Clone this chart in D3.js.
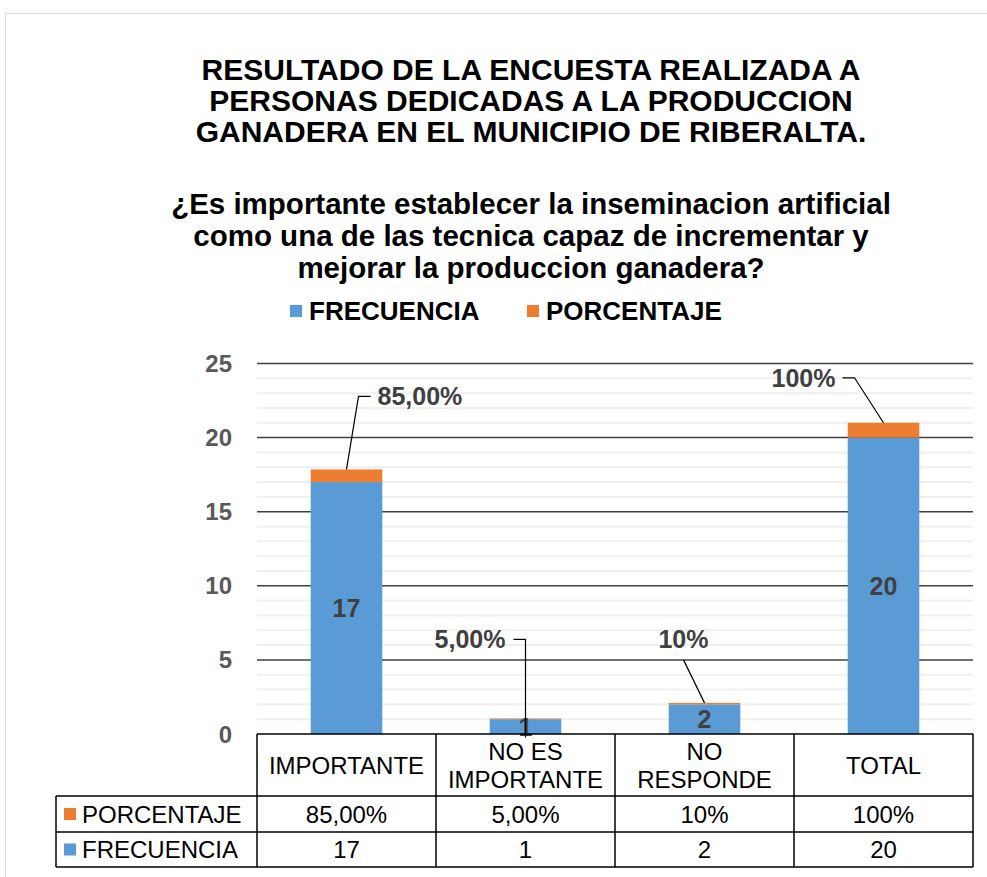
<!DOCTYPE html>
<html>
<head>
<meta charset="utf-8">
<script src="https://cdn.jsdelivr.net/npm/d3@7"></script>
<style>
  body { margin: 0; background: #fff; }
  svg { display: block; font-family: "Liberation Sans", Arial, sans-serif; }
</style>
</head>
<body>
<svg id="chart" width="987" height="877"></svg>
<script>
var titleLines = ['RESULTADO DE LA ENCUESTA REALIZADA A',
                  'PERSONAS DEDICADAS A LA PRODUCCION',
                  'GANADERA EN EL MUNICIPIO DE RIBERALTA.'];
var subtitleLines = ['¿Es importante establecer la inseminacion artificial',
                     'como una de las tecnica capaz de incrementar y',
                     'mejorar la produccion ganadera?'];
var categories = ['IMPORTANTE', 'NO ES IMPORTANTE', 'NO RESPONDE', 'TOTAL'];
var categoryLines = [['IMPORTANTE'], ['NO ES', 'IMPORTANTE'], ['NO', 'RESPONDE'], ['TOTAL']];
var frecuencia = [17, 1, 2, 20];
var porcentaje = [0.85, 0.05, 0.10, 1.00];
var porcentajeLabels = ['85,00%', '5,00%', '10%', '100%'];
var yTicks = [0, 5, 10, 15, 20, 25];
var seriesNames = ['FRECUENCIA', 'PORCENTAJE'];

var BLUE = '#5B9BD5', ORANGE = '#ED7D31';

// leader line layout for the percentage labels (pixel offsets from bar centre / segment top)
var leaders = [
  { pts: [[0, 0], [12, -73], [24, -73]], tx: 31, ty: 9, anchor: 'start' },
  { pts: [[0, 19], [0, -79], [-12, -79]], tx: -20, ty: 9, anchor: 'end' },
  { pts: [[0, 0], [-21, -43]], tx: -21, ty: -12, anchor: 'middle' },
  { pts: [[0, 0], [-29, -45], [-41, -45]], tx: -48, ty: 9, anchor: 'end' }
];

var svg = d3.select('#chart');

svg.append('rect')
  .attr('x', 5.5).attr('y', 13.5)
  .attr('width', 1000).attr('height', 900)
  .attr('fill', '#fff').attr('stroke', '#d9d9d9');

var x = d3.scaleBand().domain(categories).range([257, 973]);
var y = d3.scaleLinear().domain([0, 25]).range([734, 363.5]);
var barW = x.bandwidth() * 0.4;

// titles
svg.append('g').selectAll('text').data(titleLines).join('text')
  .attr('x', 531).attr('y', function(d, i) { return 80 + i * 31; })
  .attr('text-anchor', 'middle')
  .attr('font-size', 30).attr('font-weight', 'bold').attr('fill', '#000')
  .text(function(d) { return d; });

svg.append('g').selectAll('text').data(subtitleLines).join('text')
  .attr('x', 531).attr('y', function(d, i) { return 214 + i * 32; })
  .attr('text-anchor', 'middle')
  .attr('font-size', 29.5).attr('font-weight', 'bold').attr('fill', '#000')
  .text(function(d) { return d; });

// legend
var legend = svg.append('g');
var legendX = [290, 527];
seriesNames.forEach(function(name, i) {
  legend.append('rect')
    .attr('x', legendX[i]).attr('y', 305).attr('width', 12).attr('height', 12)
    .attr('fill', i === 0 ? BLUE : ORANGE);
  legend.append('text')
    .attr('x', legendX[i] + 19).attr('y', 320)
    .attr('font-size', 26).attr('font-weight', 'bold').attr('fill', '#000')
    .text(name);
});

// grid
var minor = d3.range(1, 25).filter(function(v) { return v % 5 !== 0; });
svg.append('g').selectAll('line').data(minor).join('line')
  .attr('x1', 257).attr('x2', 973)
  .attr('y1', function(d) { return y(d); }).attr('y2', function(d) { return y(d); })
  .attr('stroke', '#efefef').attr('stroke-width', 2);

svg.append('g').selectAll('line').data(yTicks.slice(1)).join('line')
  .attr('x1', 257).attr('x2', 973)
  .attr('y1', function(d) { return y(d); }).attr('y2', function(d) { return y(d); })
  .attr('stroke', '#404040').attr('stroke-width', 1.5);

svg.append('g').selectAll('text').data(yTicks).join('text')
  .attr('x', 232).attr('y', function(d) { return y(d) + 8.5; })
  .attr('text-anchor', 'end')
  .attr('font-size', 24).attr('font-weight', 'bold').attr('fill', '#595959')
  .text(function(d) { return d; });

// bars
var bars = svg.append('g');
categories.forEach(function(c, i) {
  var bx = x(c) + (x.bandwidth() - barW) / 2;
  bars.append('rect')
    .attr('x', bx).attr('width', barW)
    .attr('y', y(frecuencia[i])).attr('height', y(0) - y(frecuencia[i]))
    .attr('fill', BLUE);
  bars.append('rect')
    .attr('x', bx).attr('width', barW)
    .attr('y', y(frecuencia[i] + porcentaje[i]))
    .attr('height', y(frecuencia[i]) - y(frecuencia[i] + porcentaje[i]))
    .attr('fill', ORANGE);
});

// labels
var labels = svg.append('g');
categories.forEach(function(c, i) {
  var cx = x(c) + x.bandwidth() / 2;
  labels.append('text')
    .attr('x', cx).attr('y', y(frecuencia[i] / 2) + 9)
    .attr('text-anchor', 'middle')
    .attr('font-size', 25).attr('font-weight', 'bold').attr('fill', '#404040')
    .text(frecuencia[i]);

  var top = y(frecuencia[i] + porcentaje[i]);
  var L = leaders[i];
  labels.append('path')
    .attr('d', d3.line()(L.pts.map(function(p) { return [cx + p[0], top + p[1]]; })))
    .attr('fill', 'none').attr('stroke', '#000').attr('stroke-width', 1.2);
  var last = L.pts[L.pts.length - 1];
  labels.append('text')
    .attr('x', cx + L.tx).attr('y', top + last[1] + L.ty)
    .attr('text-anchor', L.anchor)
    .attr('font-size', 25).attr('font-weight', 'bold').attr('fill', '#404040')
    .text(porcentajeLabels[i]);
});

// data table
var table = svg.append('g');
var rowY = [734, 796, 832, 867];
var colX = [257].concat(categories.map(function(c) { return x(c) + x.bandwidth(); }));
var tline = function(x1, y1, x2, y2) {
  table.append('line')
    .attr('x1', x1).attr('y1', y1).attr('x2', x2).attr('y2', y2)
    .attr('stroke', '#000').attr('stroke-width', 1.5);
};
tline(257, rowY[0], 973, rowY[0]);
tline(56, rowY[1], 973, rowY[1]);
tline(56, rowY[2], 973, rowY[2]);
tline(56, rowY[3], 973, rowY[3]);
tline(56, rowY[1], 56, rowY[3]);
colX.forEach(function(cx) { tline(cx, rowY[0], cx, rowY[3]); });

categories.forEach(function(c, i) {
  var cx = x(c) + x.bandwidth() / 2;
  var lines = categoryLines[i];
  lines.forEach(function(l, j) {
    table.append('text')
      .attr('x', cx)
      .attr('y', (rowY[0] + rowY[1]) / 2 + 8.5 + (j - (lines.length - 1) / 2) * 28)
      .attr('text-anchor', 'middle').attr('font-size', 24).attr('fill', '#000')
      .text(l);
  });
  table.append('text')
    .attr('x', cx).attr('y', (rowY[1] + rowY[2]) / 2 + 8.5)
    .attr('text-anchor', 'middle').attr('font-size', 24).attr('fill', '#000')
    .text(porcentajeLabels[i]);
  table.append('text')
    .attr('x', cx).attr('y', (rowY[2] + rowY[3]) / 2 + 8.5)
    .attr('text-anchor', 'middle').attr('font-size', 24).attr('fill', '#000')
    .text(frecuencia[i]);
});

var rowNames = ['PORCENTAJE', 'FRECUENCIA'];
rowNames.forEach(function(name, i) {
  var cy = (rowY[i + 1] + rowY[i + 2]) / 2;
  table.append('rect')
    .attr('x', 64).attr('y', cy - 6).attr('width', 12).attr('height', 12)
    .attr('fill', i === 0 ? ORANGE : BLUE);
  table.append('text')
    .attr('x', 82).attr('y', cy + 8.5)
    .attr('font-size', 24).attr('fill', '#000')
    .text(name);
});
</script>
</body>
</html>
